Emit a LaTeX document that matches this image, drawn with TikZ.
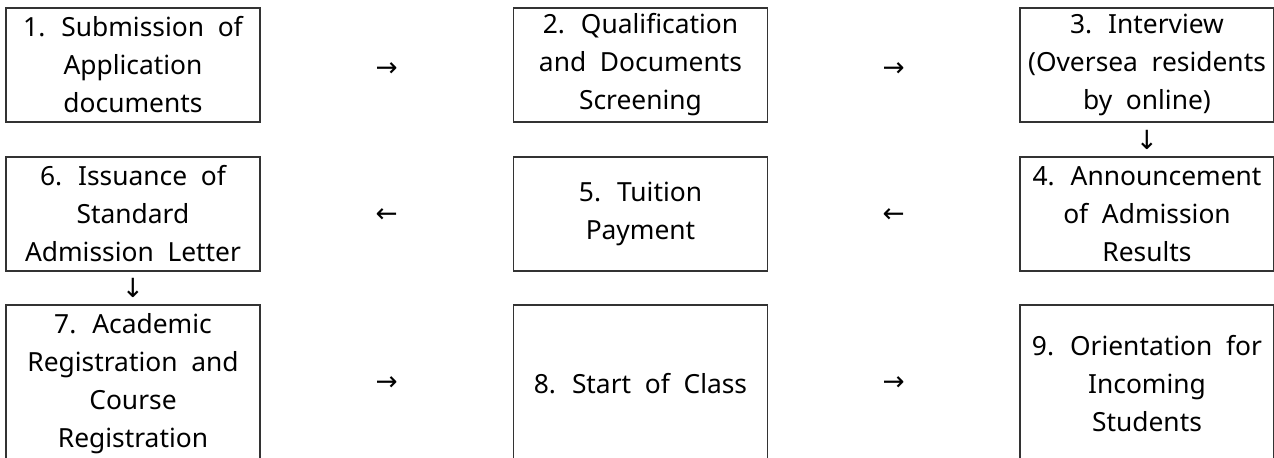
\documentclass[tikz,border=0pt]{standalone}
\usepackage{fontspec}
\setmainfont{Noto Sans}
\newfontfamily\arrowfont{DejaVu Sans}
\usetikzlibrary{calc}
\newcommand{\boxfont}{\fontsize{15}{21.6}\selectfont\spaceskip=0.52em plus 0.1em minus 0.05em\relax}

\begin{document}
\begin{tikzpicture}[
    stepbox/.style={rectangle, draw=black!80, line width=0.6pt, minimum width=5.08cm, minimum height=2.28cm, inner sep=0pt, align=center, font=\boxfont},
    tallbox/.style={stepbox, minimum height=3.14cm},
    flow/.style={inner sep=0pt, font=\arrowfont\fontsize{15}{18}\selectfont}
]
    \useasboundingbox (0,0) rectangle (25.48,-9.16);
    \clip (0,0) rectangle (25.48,-9.16);

    % First row
    \node[stepbox] (s1) at (2.66,-1.30) {1. Submission of\\Application\\documents};
    \node[stepbox] (s2) at (12.81,-1.30) {2. Qualification\\and Documents\\Screening};
    \node[stepbox] (s3) at (22.94,-1.30) {3. Interview\\(Oversea residents\\by online)};

    % Second row
    \node[stepbox] (s6) at (2.66,-4.28) {6. Issuance of\\Standard\\Admission Letter};
    \node[stepbox] (s5) at (12.81,-4.28) {5. Tuition\\Payment};
    \node[stepbox] (s4) at (22.94,-4.28) {4. Announcement\\of Admission\\Results};

    % Third row
    \node[tallbox] (s7) at (2.66,-7.67) {7. Academic\\Registration and\\Course\\Registration};
    \node[tallbox] (s8) at (12.81,-7.67) {8. Start of Class};
    \node[tallbox] (s9) at (22.94,-7.67) {9. Orientation for\\Incoming\\Students};

    % Arrows
    \node[flow] (a12) at ($(s1)!0.5!(s2)+(0,-0.1)$) {→};
    \node[flow] (a23) at ($(s2)!0.5!(s3)+(0,-0.1)$) {→};
    \node[flow] (a34) at ($(s3.south)!0.5!(s4.north)$) {↓};
    \node[flow] (a45) at ($(s4)!0.5!(s5)+(0,-0.04)$) {←};
    \node[flow] (a56) at ($(s5)!0.5!(s6)+(0,-0.04)$) {←};
    \node[flow] (a67) at ($(s6.south)!0.5!(s7.north)$) {↓};
    \node[flow] (a78) at ($(s7)!0.5!(s8)$) {→};
    \node[flow] (a89) at ($(s8)!0.5!(s9)$) {→};

\end{tikzpicture}
\end{document}
